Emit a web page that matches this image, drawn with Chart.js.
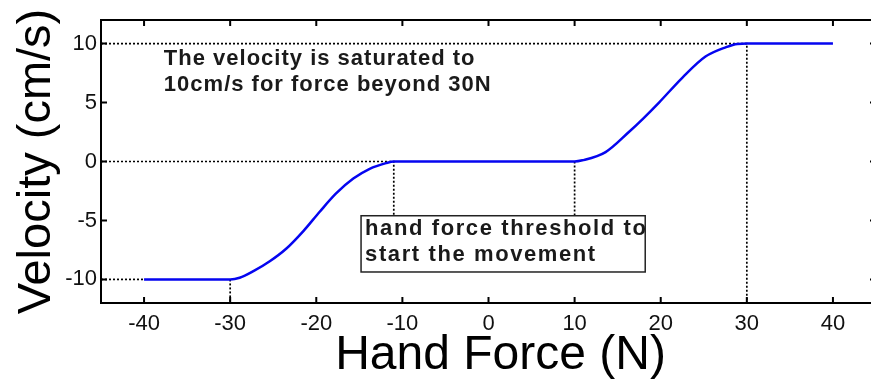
<!DOCTYPE html>
<html>
<head>
<meta charset="utf-8">
<script src="https://cdn.jsdelivr.net/npm/chart.js@4"></script>
<style>
  html, body { margin: 0; padding: 0; background: #fff; overflow: hidden; }
  #wrap { width: 871px; height: 380px; overflow: hidden; }
</style>
</head>
<body>
<div id="wrap"><canvas id="myChart" width="880" height="380"></canvas></div>
<script>
// blue curve
var forceN   = [-40, -30, -28.9, -27.3, -25.4, -23.5, -21.5, -19.6, -17.7, -15.7, -13.8, -11.9, -11, 10, 10.9, 13.6, 16.3, 17.9, 19.8, 22.5, 25.2, 27.6, 28.9, 30, 40]
var velocity = [-10, -10, -9.86, -9.3, -8.46, -7.4, -5.9, -4.26, -2.71, -1.45, -0.62, -0.14, 0, 0, 0.1, 0.8, 2.5, 3.6, 5.0, 7.1, 8.9, 9.7, 9.97, 10, 10]

// dotted guide lines (x values, y values)
var guideTopX = [-45, 30, 30]
var guideTopY = [10, 10, -12]
var guideZeroX = [-45, -11, -11]
var guideZeroY = [0, 0, -4.6]
var guideRightX = [10, 10]
var guideRightY = [0, -4.6]
var guideBottomX = [-45, -40]
var guideBottomY = [-10, -10]
var guideLeftX = [-30, -30]
var guideLeftY = [-10, -12]

var xTicks = [-40, -30, -20, -10, 0, 10, 20, 30, 40]
var yTicks = [-10, -5, 0, 5, 10]

var xTitle = 'Hand Force (N)'
var yTitle = 'Velocity (cm/s)'
var noteTop = ["The velocity is saturated to", "10cm/s for force beyond 30N"]
var noteBox = ["hand force threshold to", "start the movement"]

var FONT = '"Liberation Sans", Arial, sans-serif'

window.onload = main;

function main() {
    var ctx = document.getElementById('myChart').getContext('2d');

    var datasets = [{
        data: map2((a, b) => ({x: a, y: b}), forceN, velocity),
        borderColor: '#0505f0',
        borderWidth: 2.5,
        showLine: true,
        pointRadius: 0,
        cubicInterpolationMode: 'monotone',
        fill: false,
        order: 0
    }]
    var guides = [
        [guideTopX, guideTopY], [guideZeroX, guideZeroY], [guideRightX, guideRightY],
        [guideBottomX, guideBottomY], [guideLeftX, guideLeftY]
    ]
    guides.forEach(g => {
        datasets.push({
            data: map2((a, b) => ({x: a, y: b}), g[0], g[1]),
            borderColor: '#000',
            borderWidth: 1.7,
            borderDash: [2, 2],
            showLine: true,
            pointRadius: 0,
            tension: 0,
            fill: false,
            order: 1
        })
    })

    var frame = {
        id: 'frame',
        afterDatasetsDraw(chart) {
            var c = chart.ctx
            var a = chart.chartArea
            var sx = chart.scales.x, sy = chart.scales.y
            c.save()
            c.strokeStyle = '#000'
            c.lineWidth = 2
            // inward tick marks on all four sides
            c.beginPath()
            xTicks.forEach(v => {
                var px = sx.getPixelForValue(v)
                c.moveTo(px, a.top); c.lineTo(px, a.top + 6)
                c.moveTo(px, a.bottom); c.lineTo(px, a.bottom - 6)
            })
            yTicks.forEach(v => {
                var py = sy.getPixelForValue(v)
                c.moveTo(a.left, py); c.lineTo(a.left + 6, py)
                c.moveTo(a.right, py); c.lineTo(a.right - 6, py)
            })
            c.stroke()
            c.strokeRect(a.left, a.top, a.right - a.left, a.bottom - a.top)

            // x axis title, sits a bit right of the plot centre in the original
            c.fillStyle = '#000'
            c.font = '48px ' + FONT
            c.textAlign = 'center'
            c.textBaseline = 'alphabetic'
            c.fillText(xTitle, (a.left + a.right) / 2 + 12, 369)

            // text notes
            c.textAlign = 'left'
            c.fillStyle = '#1a1a1a'
            c.font = 'bold 22px ' + FONT
            c.letterSpacing = '1px'
            var tx = sx.getPixelForValue(-37.7)
            c.fillText(noteTop[0], tx, sy.getPixelForValue(8.2))
            c.fillText(noteTop[1], tx, sy.getPixelForValue(6.0))

            var bx0 = sx.getPixelForValue(-14.8), bx1 = sx.getPixelForValue(18.2)
            var by0 = sy.getPixelForValue(-4.6), by1 = sy.getPixelForValue(-9.37)
            c.fillStyle = '#fff'
            c.fillRect(bx0, by0, bx1 - bx0, by1 - by0)
            c.lineWidth = 1.5
            c.strokeStyle = '#222'
            c.strokeRect(bx0, by0, bx1 - bx0, by1 - by0)
            c.fillStyle = '#1a1a1a'
            c.letterSpacing = '1.6px'
            c.fillText(noteBox[0], bx0 + 4, by0 + 19)
            c.fillText(noteBox[1], bx0 + 4, by0 + 45)
            c.restore()
        }
    }

    new Chart(ctx, {
        type: 'scatter',
        data: {datasets: datasets},
        options: {
            responsive: false,
            animation: false,
            devicePixelRatio: 1,
            layout: {padding: {top: 20, right: 4, left: 0, bottom: 0}},
            plugins: {legend: {display: false}, tooltip: {enabled: false}},
            scales: {
                x: {
                    type: 'linear', min: -45, max: 45,
                    afterBuildTicks: s => { s.ticks = xTicks.map(v => ({value: v})) },
                    afterFit: s => { s.height = 77 },
                    grid: {display: false, drawTicks: false},
                    border: {display: false},
                    ticks: {color: '#111', padding: 8, font: {size: 22, family: FONT}}
                },
                y: {
                    type: 'linear', min: -12, max: 12,
                    afterBuildTicks: s => { s.ticks = yTicks.map(v => ({value: v})) },
                    afterFit: s => { s.width = 101 },
                    grid: {display: false, drawTicks: false},
                    border: {display: false},
                    ticks: {color: '#111', padding: 4, font: {size: 22, family: FONT}},
                    title: {
                        display: true, text: yTitle, color: '#000',
                        font: {size: 47, lineHeight: 1, family: FONT},
                        padding: {top: 14, bottom: 0}
                    }
                }
            }
        },
        plugins: [frame]
    });
}

function map2(func, arr1, arr2) {
    return arr1.map((value, index) => func(value, arr2[index], index))
}
</script>
</body>
</html>
